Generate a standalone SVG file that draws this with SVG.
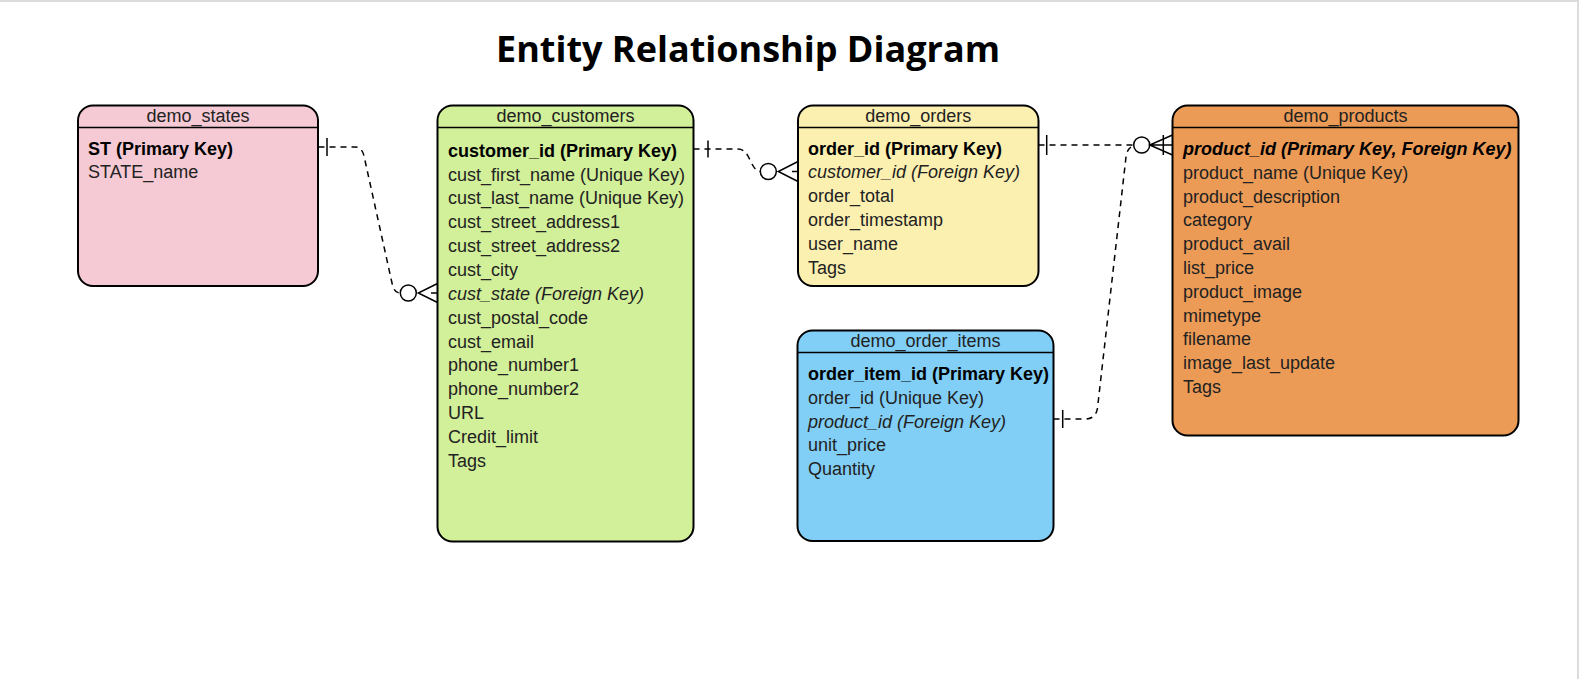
<svg xmlns="http://www.w3.org/2000/svg" width="1579" height="679" viewBox="0 0 1579 679">
<style>
.frame{fill:none;stroke:#dcdcdc;stroke-width:2}
.box{stroke:#000;stroke-width:2}
.hline{stroke:#000;stroke-width:1.6}
.hdr{font-family:"Liberation Sans",Arial,sans-serif;font-size:18px;fill:#222;text-anchor:middle}
.row{font-family:"Liberation Sans",Arial,sans-serif;font-size:18px;fill:#222}
.pk{font-weight:bold;fill:#000}
.fk{font-style:italic}
.title{font-family:"Open Sans",sans-serif;font-size:36px;font-weight:bold;fill:#000;text-anchor:middle}
.edge{fill:none;stroke:#000;stroke-width:1.5;stroke-dasharray:6 5}
.mk{fill:none;stroke:#000;stroke-width:1.5}
.circ{fill:#fff;stroke:#000;stroke-width:1.5}
</style>
<rect x="0" y="0" width="1579" height="679" fill="#fff"/>
<path class="frame" d="M0,1 H1578 V679"/>
<text class="title" x="748" y="62">Entity Relationship Diagram</text>

<g id="connectors">
  <!-- states -> customers -->
  <path class="edge" d="M318.5,147 H355 Q362,147 364,156 L392,283 Q394,293 400,293"/>
  <line class="mk" x1="327" y1="138" x2="327" y2="156"/>
  <circle class="circ" cx="408.3" cy="293" r="8"/>
  <path class="mk" d="M437.5,283.5 L418.3,293 L437.5,302.5 M431,293 H437.5"/>

  <!-- customers -> orders -->
  <path class="edge" d="M693.5,149 H738 Q744,149 748,156 L752,164 Q756,171.5 760,171.5"/>
  <line class="mk" x1="708" y1="140.5" x2="708" y2="157.5"/>
  <circle class="circ" cx="768.3" cy="171.5" r="8"/>
  <path class="mk" d="M798,161.5 L778.3,171.5 L798,181.5 M792,171.5 H798"/>

  <!-- order_items -> products -->
  <path class="edge" d="M1053.5,419 H1085 Q1096,419 1097.5,408 L1126,157 Q1127.5,145 1138,145 H1150"/>
  <line class="mk" x1="1062.7" y1="410" x2="1062.7" y2="428"/>
  <line class="mk" x1="1163.3" y1="135" x2="1163.3" y2="155"/>

  <!-- orders -> products -->
  <path class="edge" d="M1038.5,145 H1133.7"/>
  <line class="mk" x1="1046.7" y1="135" x2="1046.7" y2="155"/>
  <circle class="circ" cx="1141.7" cy="145" r="8"/>
  <path class="mk" d="M1172.5,135 L1149.7,145 L1172.5,155 M1149.7,145 H1172.5"/>
</g>

<g id="demo_states">
  <rect class="box" x="78" y="105.5" width="240" height="180.5" rx="15" fill="#F5CAD4"/>
  <line class="hline" x1="78" y1="127.5" x2="318" y2="127.5"/>
  <text class="hdr" x="198" y="121.7">demo_states</text>
  <text class="row pk" x="88" y="154.5">ST (Primary Key)</text>
  <text class="row" x="88" y="178.3">STATE_name</text>
</g>

<g id="demo_customers">
  <rect class="box" x="437.5" y="105.5" width="256" height="436" rx="15" fill="#D2EF99"/>
  <line class="hline" x1="437.5" y1="127.5" x2="693.5" y2="127.5"/>
  <text class="hdr" x="565.5" y="121.7">demo_customers</text>
  <text class="row pk" x="448" y="156.7">customer_id (Primary Key)</text>
  <text class="row" x="448" y="180.55">cust_first_name (Unique Key)</text>
  <text class="row" x="448" y="204.4">cust_last_name (Unique Key)</text>
  <text class="row" x="448" y="228.25">cust_street_address1</text>
  <text class="row" x="448" y="252.1">cust_street_address2</text>
  <text class="row" x="448" y="275.95">cust_city</text>
  <text class="row fk" x="448" y="299.8">cust_state (Foreign Key)</text>
  <text class="row" x="448" y="323.65">cust_postal_code</text>
  <text class="row" x="448" y="347.5">cust_email</text>
  <text class="row" x="448" y="371.35">phone_number1</text>
  <text class="row" x="448" y="395.2">phone_number2</text>
  <text class="row" x="448" y="419.05">URL</text>
  <text class="row" x="448" y="442.9">Credit_limit</text>
  <text class="row" x="448" y="466.75">Tags</text>
</g>

<g id="demo_orders">
  <rect class="box" x="798" y="105.5" width="240.5" height="180.5" rx="15" fill="#FCF0B1"/>
  <line class="hline" x1="798" y1="127.5" x2="1038.5" y2="127.5"/>
  <text class="hdr" x="918.3" y="121.7">demo_orders</text>
  <text class="row pk" x="808" y="154.5">order_id (Primary Key)</text>
  <text class="row fk" x="808" y="178.3">customer_id (Foreign Key)</text>
  <text class="row" x="808" y="202.1">order_total</text>
  <text class="row" x="808" y="225.9">order_timestamp</text>
  <text class="row" x="808" y="249.7">user_name</text>
  <text class="row" x="808" y="273.5">Tags</text>
</g>

<g id="demo_order_items">
  <rect class="box" x="797.5" y="330.5" width="256" height="210.5" rx="15" fill="#81CFF6"/>
  <line class="hline" x1="797.5" y1="352.5" x2="1053.5" y2="352.5"/>
  <text class="hdr" x="925.5" y="346.7">demo_order_items</text>
  <text class="row pk" x="808" y="380">order_item_id (Primary Key)</text>
  <text class="row" x="808" y="403.8">order_id (Unique Key)</text>
  <text class="row fk" x="808" y="427.6">product_id (Foreign Key)</text>
  <text class="row" x="808" y="451.4">unit_price</text>
  <text class="row" x="808" y="475.2">Quantity</text>
</g>

<g id="demo_products">
  <rect class="box" x="1172.5" y="105.5" width="346" height="330" rx="15" fill="#EB9B56"/>
  <line class="hline" x1="1172.5" y1="127.5" x2="1518.5" y2="127.5"/>
  <text class="hdr" x="1345.5" y="121.7">demo_products</text>
  <text class="row pk fk" x="1183" y="155">product_id (Primary Key, Foreign Key)</text>
  <text class="row" x="1183" y="178.8">product_name (Unique Key)</text>
  <text class="row" x="1183" y="202.6">product_description</text>
  <text class="row" x="1183" y="226.4">category</text>
  <text class="row" x="1183" y="250.2">product_avail</text>
  <text class="row" x="1183" y="274">list_price</text>
  <text class="row" x="1183" y="297.8">product_image</text>
  <text class="row" x="1183" y="321.6">mimetype</text>
  <text class="row" x="1183" y="345.4">filename</text>
  <text class="row" x="1183" y="369.2">image_last_update</text>
  <text class="row" x="1183" y="393">Tags</text>
</g>
</svg>
